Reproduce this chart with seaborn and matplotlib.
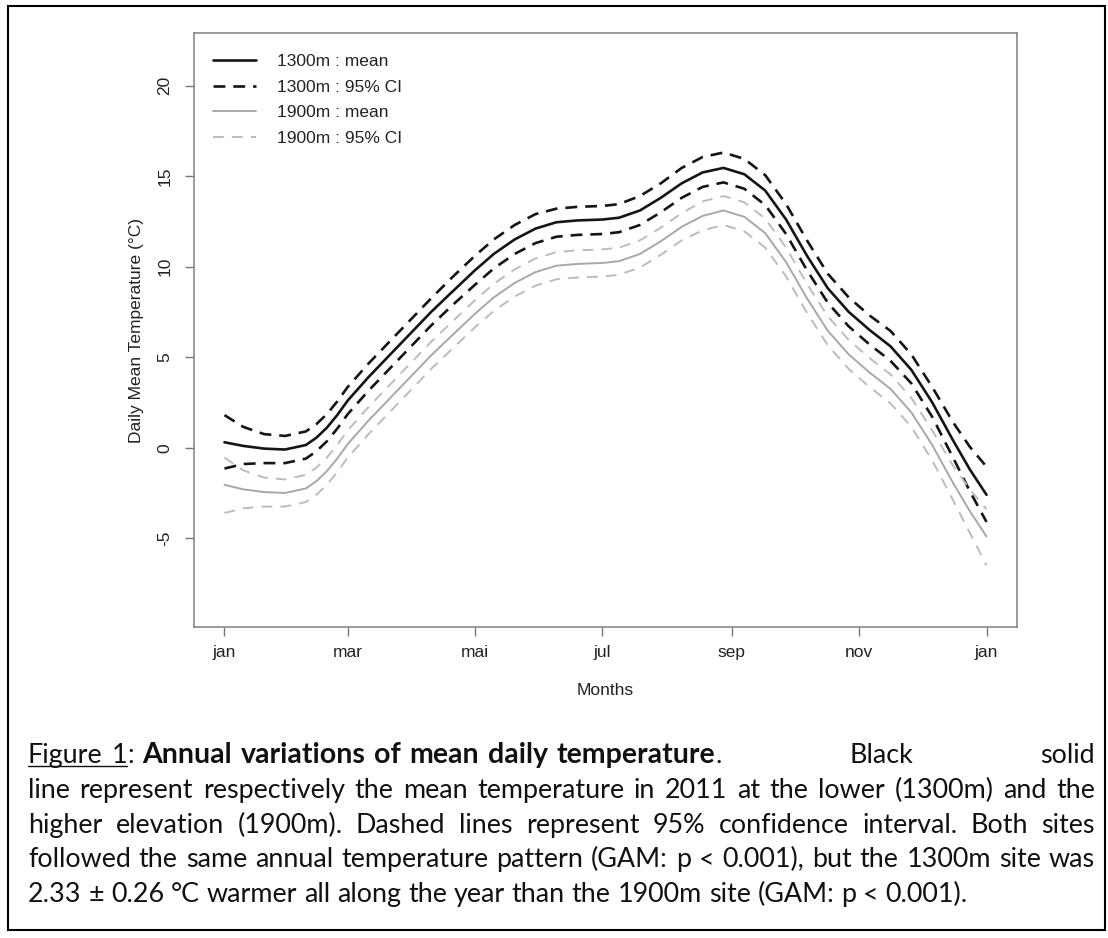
import matplotlib
matplotlib.use("Agg")
import matplotlib.pyplot as plt
import seaborn as sns
import pandas as pd
from matplotlib.patches import Rectangle
from matplotlib.lines import Line2D

# ---------------- data ----------------
days = [1, 10, 20, 30, 40, 45, 50, 55, 60, 70, 80, 90, 100, 110, 121, 130, 140, 150, 160, 170, 182,
        190, 200, 210, 220, 230, 240, 250, 260, 270, 280, 290, 300, 310, 320, 330, 340, 350, 358, 366]

mean_1300 = [0.3, 0.1, -0.05, -0.1, 0.15, 0.55, 1.1, 1.8, 2.6, 3.9, 5.1, 6.3, 7.5, 8.6, 9.8, 10.7,
             11.5, 12.1, 12.45, 12.55, 12.6, 12.7, 13.1, 13.8, 14.6, 15.2, 15.45, 15.1, 14.2, 12.6,
             10.6, 8.8, 7.5, 6.5, 5.6, 4.3, 2.5, 0.4, -1.2, -2.6]
upper_1300 = [1.8, 1.15, 0.75, 0.65, 0.9, 1.3, 1.85, 2.55, 3.35, 4.65, 5.85, 7.05, 8.25, 9.4, 10.6,
              11.5, 12.3, 12.9, 13.2, 13.3, 13.35, 13.45, 13.9, 14.6, 15.45, 16.05, 16.3, 15.95,
              15.05, 13.45, 11.45, 9.6, 8.3, 7.3, 6.45, 5.15, 3.35, 1.4, 0.05, -1.05]
lower_1300 = [-1.15, -0.9, -0.85, -0.85, -0.6, -0.2, 0.35, 1.05, 1.85, 3.15, 4.35, 5.55, 6.75,
              7.85, 9.0, 9.9, 10.7, 11.3, 11.65, 11.75, 11.8, 11.9, 12.3, 13.0, 13.8, 14.4, 14.65,
              14.3, 13.4, 11.8, 9.8, 8.0, 6.7, 5.7, 4.8, 3.55, 1.7, -0.55, -2.4, -4.1]
mean_1900 = [-2.05, -2.3, -2.45, -2.5, -2.25, -1.85, -1.3, -0.6, 0.2, 1.5, 2.7, 3.9, 5.1, 6.2, 7.4,
             8.3, 9.1, 9.7, 10.05, 10.15, 10.2, 10.3, 10.7, 11.4, 12.2, 12.8, 13.1, 12.75, 11.85,
             10.25, 8.25, 6.45, 5.15, 4.15, 3.25, 1.95, 0.15, -1.95, -3.5, -4.9]
upper_1900 = [-0.55, -1.25, -1.65, -1.75, -1.5, -1.1, -0.55, 0.15, 0.95, 2.25, 3.45, 4.65, 5.85,
              6.95, 8.15, 9.05, 9.85, 10.45, 10.8, 10.9, 10.95, 11.05, 11.45, 12.15, 12.95, 13.6,
              13.9, 13.55, 12.65, 11.05, 9.05, 7.25, 5.95, 4.95, 4.05, 2.75, 0.95, -1.0, -2.3, -3.4]
lower_1900 = [-3.6, -3.35, -3.25, -3.25, -3.0, -2.6, -2.05, -1.35, -0.55, 0.75, 1.95, 3.15, 4.35,
              5.45, 6.65, 7.55, 8.35, 8.95, 9.3, 9.4, 9.45, 9.55, 9.95, 10.65, 11.45, 12.0, 12.3,
              11.95, 11.05, 9.45, 7.45, 5.65, 4.35, 3.35, 2.45, 1.15, -0.7, -2.9, -4.7, -6.5]

month_ticks = [1, 60, 121, 182, 244, 305, 366]
month_labels = ["jan", "mar", "mai", "jul", "sep", "nov", "jan"]
y_ticks = [-5, 0, 5, 10, 15, 20]
legend_labels = ["1300m : mean", "1300m : 95% CI", "1900m : mean", "1900m : 95% CI"]

caption_lines = [
    [[("Figure", "u")], [("1", "u"), (":", "n")], [("Annual", "b")], [("variations", "b")],
     [("of", "b")], [("mean", "b")], [("daily", "b")], [("temperature", "b"), (".", "n")],
     [("Black", "n")], [("solid", "n")]],
    "line represent respectively the mean temperature in 2011 at the lower (1300m) and the",
    "higher elevation (1900m). Dashed lines represent 95% confidence interval. Both sites",
    "followed the same annual temperature pattern (GAM: p < 0.001), but the 1300m site was",
    "2.33 ± 0.26 °C warmer all along the year than the 1900m site (GAM: p < 0.001).",
]

# ---------------- figure ----------------
sns.set_style("ticks")
plt.rcParams["font.family"] = ["Liberation Sans", "DejaVu Sans"]

W, H = 1108, 938
fig = plt.figure(figsize=(W / 100, H / 100), dpi=100)
fig.patch.set_facecolor("white")
ax = fig.add_axes([194 / W, 1 - 627 / H, (1017 - 194) / W, (627 - 33) / H])
ax.set_facecolor("white")

BLACK = "#151515"
GREY_S = "#a8a8a8"
GREY_D = "#bcbcbc"
dash_b = (0, (4.5, 3.0))
dash_g = (0, (5.5, 4.2))

styles = [
    (mean_1300, dict(color=BLACK, lw=1.9, ls="-")),
    (upper_1300, dict(color=BLACK, lw=1.9, ls=dash_b)),
    (lower_1300, dict(color=BLACK, lw=1.9, ls=dash_b)),
    (mean_1900, dict(color=GREY_S, lw=1.4, ls="-")),
    (upper_1900, dict(color=GREY_D, lw=1.4, ls=dash_g)),
    (lower_1900, dict(color=GREY_D, lw=1.4, ls=dash_g)),
]
for vals, st in styles:
    df = pd.DataFrame({"day": days, "temp": vals})
    sns.lineplot(data=df, x="day", y="temp", ax=ax, color=st["color"], linewidth=st["lw"],
                 linestyle=st["ls"], legend=False)

ax.set_xlim(1 - 14.6, 366 + 14.6)
ax.set_ylim(-9.9, 22.9)

TXT = "#222222"
ax.set_xticks(month_ticks)
ax.set_xticklabels(month_labels)
ax.set_yticks(y_ticks)
ax.set_yticklabels([str(v) for v in y_ticks], rotation=90, va="center")
ax.tick_params(axis="both", direction="out", length=6.5, width=1.0, color="#777777",
               labelsize=12.5, labelcolor=TXT)
ax.tick_params(axis="x", pad=6.5)
ax.tick_params(axis="y", pad=9)
for sp in ax.spines.values():
    sp.set_visible(True)
    sp.set_color("#808080")
    sp.set_linewidth(1.1)

ax.set_xlabel("Months", fontsize=12.5, color=TXT)
ax.set_ylabel("Daily Mean Temperature (°C)", fontsize=12.5, color=TXT)
ax.xaxis.label.set_verticalalignment("center")
ax.yaxis.label.set_verticalalignment("center")
ax.xaxis.set_label_coords(0.5, (627 - 690) / 594)
ax.yaxis.set_label_coords((137 - 194) / 823, 0.5)

handles = [
    Line2D([], [], color=BLACK, lw=1.9, ls="-"),
    Line2D([], [], color=BLACK, lw=1.9, ls=dash_b),
    Line2D([], [], color=GREY_S, lw=1.4, ls="-"),
    Line2D([], [], color=GREY_D, lw=1.4, ls=dash_g),
]
leg = ax.legend(handles, legend_labels, loc="upper left",
                bbox_to_anchor=((213 - 194) / 823, 1 - 21 / 594),
                frameon=False, borderpad=0, borderaxespad=0, handlelength=2.5,
                handletextpad=1.2, labelspacing=0.6, fontsize=12.5)
for t in leg.get_texts():
    t.set_color(TXT)

# ---------------- caption (justified) ----------------
renderer = fig.canvas.get_renderer()
CAP_FONT = ["Lato", "DejaVu Sans"]


def text_width(s, fs, weight="normal"):
    t = fig.text(0, 0, s, fontsize=fs, family=CAP_FONT, fontweight=weight)
    w = t.get_window_extent(renderer).width
    t.remove()
    return w


fs0 = 10.0
w_last = text_width(caption_lines[-1], fs0)
cap_fs = fs0 * (966 - 28) / w_last
bold_fs = cap_fs * 1.06
space_w = text_width("a a", cap_fs) - text_width("aa", cap_fs)

left_px, right_px = 28, 1095
baselines = [763, 798, 833, 867, 902]


def seg_fs(st):
    return bold_fs if st == "b" else cap_fs


def draw_words(words, widths, xs, yb):
    ul_start, ul_end = None, None
    for word, ws, x in zip(words, widths, xs):
        for (s, st), w in zip(word, ws):
            fig.text(x / W, 1 - yb / H, s, fontsize=seg_fs(st), family=CAP_FONT,
                     fontweight="bold" if st == "b" else "normal", color="#111111",
                     ha="left", va="baseline")
            if st == "u":
                if ul_start is None:
                    ul_start = x
                ul_end = x + w
            x += w
    if ul_start is not None:
        fig.add_artist(Line2D([ul_start / W, ul_end / W], [1 - (yb + 3) / H] * 2,
                              transform=fig.transFigure, color="#111111", lw=1.0))


for li, line in enumerate(caption_lines):
    if isinstance(line, str):
        words = [[(w, "n")] for w in line.split(" ")]
    else:
        words = line
    widths = [[text_width(s, seg_fs(st), "bold" if st == "b" else "normal") for s, st in word]
              for word in words]
    wsum = [sum(ws) for ws in widths]
    yb = baselines[li]
    xs = []
    if li == 0:
        # words up to "daily" end near x=548; the rest of the space sits before "Black" and "solid"
        n_first = 7
        g = (548 - left_px - sum(wsum[:n_first])) / (n_first - 1)
        x = left_px
        for i in range(8):
            xs.append(x)
            x += wsum[i] + g
        end_temp = xs[7] + wsum[7]
        g2 = (right_px - end_temp - wsum[8] - wsum[9]) / 2
        xs.append(end_temp + g2)
        xs.append(right_px - wsum[9])
    else:
        last = li == len(caption_lines) - 1
        gap = space_w if last else (right_px - left_px - sum(wsum)) / (len(words) - 1)
        x = left_px
        for w in wsum:
            xs.append(x)
            x += w + gap
    draw_words(words, widths, xs, yb)

# outer border
fig.patches.append(Rectangle((8 / W, 1 - 930 / H), (1105 - 8) / W, (930 - 6) / H,
                             transform=fig.transFigure, fill=False, edgecolor="black",
                             linewidth=1.5))

fig.savefig("out.png", dpi=100)
